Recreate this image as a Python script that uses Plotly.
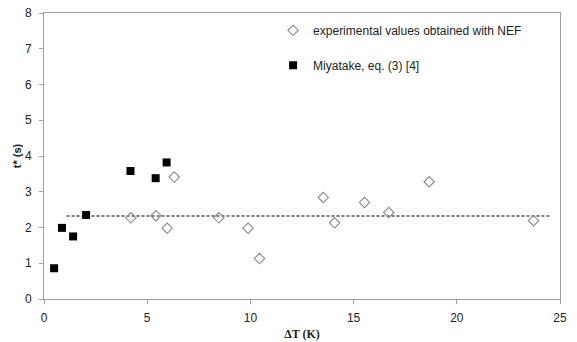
import plotly.graph_objects as go

# Experimental values obtained with NEF (open diamonds)
exp_dT = [4.21, 5.42, 5.97, 6.31, 8.47, 9.89, 10.44, 13.53, 14.08, 15.53, 16.70, 18.66, 23.72]
exp_t = [2.27, 2.33, 1.98, 3.41, 2.27, 1.98, 1.13, 2.84, 2.13, 2.70, 2.42, 3.28, 2.19]

# Miyatake, eq. (3) [4] (filled squares)
miy_dT = [0.49, 0.87, 1.41, 2.04, 4.19, 5.41, 5.94]
miy_t = [0.86, 1.99, 1.75, 2.35, 3.58, 3.38, 3.82]

# Mean line
mean_dT = [1.09, 24.5]
mean_t = [2.32, 2.32]

x_ticks = [0, 5, 10, 15, 20, 25]
y_ticks = [0, 1, 2, 3, 4, 5, 6, 7, 8]

fig = go.Figure()
fig.add_trace(go.Scatter(
    x=mean_dT, y=mean_t, mode="lines",
    line=dict(color="#555555", width=1.4, dash="3px,2px"),
    showlegend=False, hoverinfo="skip"))
fig.add_trace(go.Scatter(
    x=exp_dT, y=exp_t, mode="markers", name="experimental values obtained with NEF",
    legendgroup="a",
    marker=dict(symbol="diamond-open", size=8, color="#8a8a8a", line=dict(width=1.1, color="#8a8a8a"))))
fig.add_trace(go.Scatter(
    x=miy_dT, y=miy_t, mode="markers", name="Miyatake, eq. (3) [4]",
    legendgroup="b",
    marker=dict(symbol="square", size=8, color="black")))

axis_common = dict(
    showline=True, linecolor="#a0a0a0", linewidth=1, mirror=True,
    ticks="outside", ticklen=4, tickcolor="#a0a0a0",
    showgrid=False, zeroline=False, automargin=False,
    tickfont=dict(family="Liberation Sans, Arial, sans-serif", size=12, color="#222222"),
)

fig.update_layout(
    width=577, height=342,
    margin=dict(l=44, r=17, t=13, b=43),
    paper_bgcolor="white", plot_bgcolor="white",
    xaxis=dict(range=[0, 25], tickvals=x_ticks, ticklabelstandoff=4,
               title=dict(text="<b>ΔT (K)</b>", standoff=5,
                          font=dict(family="Liberation Serif, Times New Roman, serif", size=12, color="#222222")),
               **axis_common),
    yaxis=dict(range=[0, 8], tickvals=y_ticks, ticklabelstandoff=5,
               title=dict(text="<b>t* (s)</b>", standoff=1,
                          font=dict(family="Liberation Sans, Arial, sans-serif", size=11, color="#222222")),
               **axis_common),
    legend=dict(x=0.444, y=0.99, xanchor="left", yanchor="top",
                bgcolor="rgba(0,0,0,0)", traceorder="grouped", tracegroupgap=16,
                font=dict(family="Liberation Sans, Arial, sans-serif", size=12, color="#222222")),
)

fig.write_html("out.html")
